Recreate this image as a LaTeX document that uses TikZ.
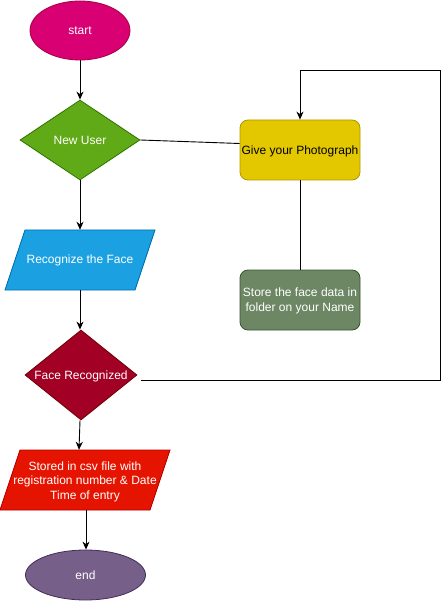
\documentclass[tikz,border=0pt]{standalone}
\usepackage{fontspec}
\setmainfont{Liberation Sans}
\usetikzlibrary{shapes.geometric,arrows.meta,calc}
\definecolor{cstart}{HTML}{D80073}\definecolor{sstart}{HTML}{A50040}
\definecolor{cnew}{HTML}{60A917}\definecolor{snew}{HTML}{2D7600}
\definecolor{crec}{HTML}{1BA1E2}\definecolor{srec}{HTML}{006EAF}
\definecolor{cfr}{HTML}{A20025}\definecolor{sfr}{HTML}{6F0000}
\definecolor{cstored}{HTML}{E51400}\definecolor{sstored}{HTML}{B20000}
\definecolor{cend}{HTML}{76608A}\definecolor{send}{HTML}{432D57}
\definecolor{cgive}{HTML}{E3C800}\definecolor{sgive}{HTML}{B09500}
\definecolor{cstore}{HTML}{6D8764}\definecolor{sstore}{HTML}{3A5431}
\tikzset{
  txt/.style={font=\fontsize{12}{14.5}\selectfont, text=white, align=center, inner sep=0pt},
  shp/.style={line width=0.8pt, inner sep=0pt},
  arr/.style={-{Stealth[length=8pt,width=7pt,inset=2.5pt]}, line width=0.9pt},
  ln/.style={line width=0.9pt},
  box/.style={shp, rectangle, rounded corners=8pt, minimum width=120pt, minimum height=60pt}
}
\begin{document}
\begin{tikzpicture}[x=1pt,y=-1pt]
\useasboundingbox (0,0) rectangle (442,601);
% start
\node[shp, ellipse, draw=sstart, fill=cstart, minimum width=100pt, minimum height=59pt] (start) at (80,30.5) {};
\node[txt] (startt) at (start.center) {start};
% new user
\node[shp, diamond, draw=snew, fill=cnew, minimum width=120pt, minimum height=80pt] (nu) at (80,140) {};
\node[txt] (nut) at (nu.center) {New User};
% recognize
\draw[shp, draw=srec, fill=crec] (25,230) -- (155,230) -- (135,290) -- (5,290) -- cycle;
\node[minimum width=150pt, minimum height=60pt, inner sep=0pt] (rec) at (80,260) {};
\node[txt] (rect) at (80,260) {Recognize the Face};
% face recognized
\node[shp, diamond, draw=sfr, fill=cfr, minimum width=112pt, minimum height=90pt] (fr) at (81,375) {};
\node[txt] (frt) at (81,376) {Face Recognized};
% stored
\draw[shp, draw=sstored, fill=cstored] (20,450) -- (170,450) -- (150,510) -- (0,510) -- cycle;
\node[minimum width=170pt, minimum height=60pt, inner sep=0pt] (stored) at (85,480) {};
\node[txt] (storedt) at (85,481.5) {Stored in csv file with\\registration number \& Date\\Time of entry};
% end
\node[shp, ellipse, draw=send, fill=cend, minimum width=120pt, minimum height=50pt] (end) at (85.5,575) {};
\node[txt] (endt) at (end.center) {end};
% give
\node[box, draw=sgive, fill=cgive] (give) at (300,150) {};
\node[txt, text=black] (givet) at (300,151) {Give your Photograph};
% store
\node[box, draw=sstore, fill=cstore] (store) at (300,300) {};
\node[txt] (storet) at (300,301) {Store the face data in\\folder on your Name};
% connectors
\draw[arr] (start.south) -- (nu.north);
\draw[ln] (nu.east) -- ([yshift=6.5pt]give.west);
\draw[arr] (nu.south) -- (rec.north);
\draw[arr] (rec.south) -- ([xshift=-1pt]fr.north);
\draw[arr] ([xshift=-1pt]fr.south) -- ([xshift=-6pt]stored.north);
\draw[arr] ([xshift=1pt]stored.south) -- ([xshift=0.5pt]end.north);
\coordinate (c1) at (440,380);
\coordinate (c2) at (440,70);
\draw[arr] ($(fr.east)+(4,5)$) -- (c1) -- (c2) -| (give.north);
\draw[ln] (give.south) -- (store.north);
\end{tikzpicture}
\end{document}
